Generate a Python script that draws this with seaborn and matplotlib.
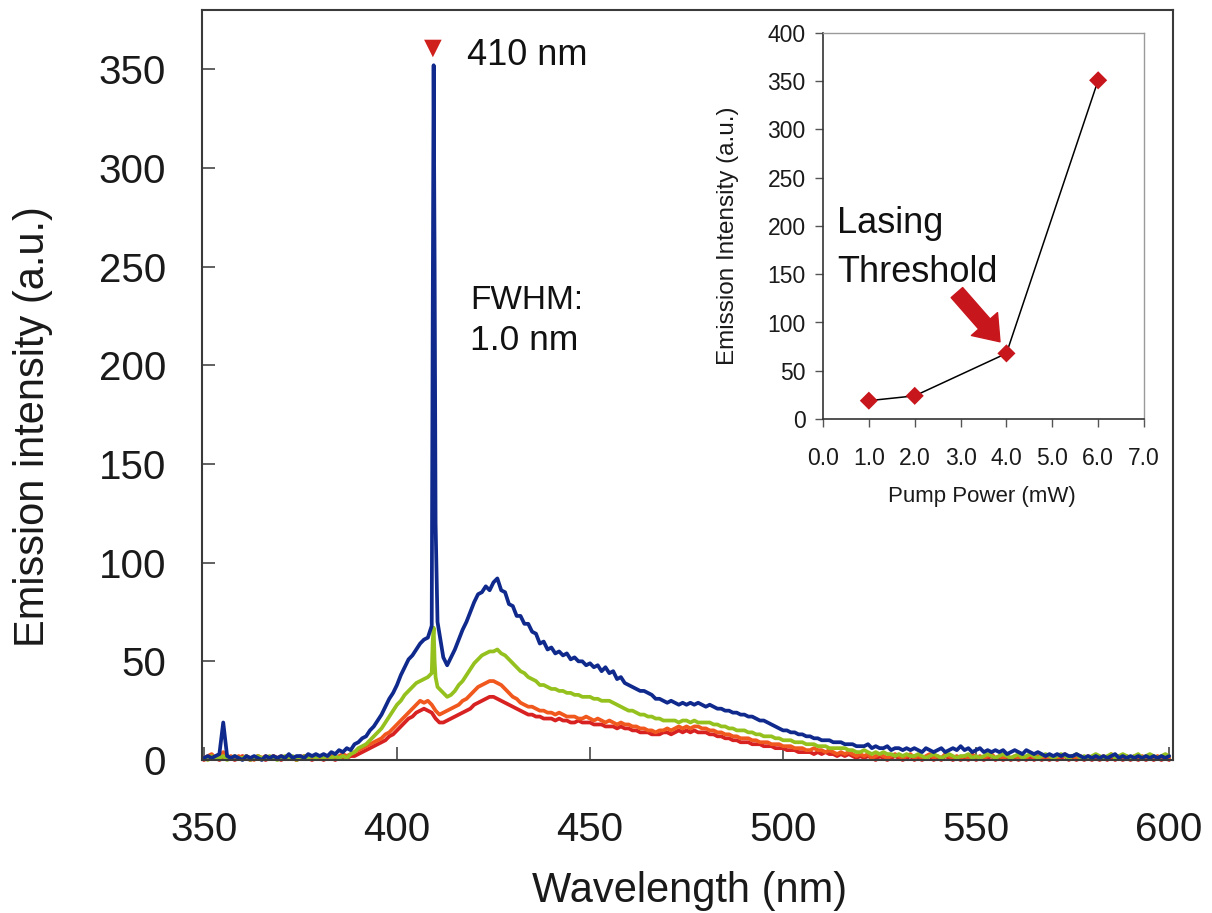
import numpy as np
import pandas as pd
import matplotlib
matplotlib.use("Agg")
import matplotlib.pyplot as plt
from matplotlib.ticker import FormatStrFormatter
import seaborn as sns

# ---------------- data ----------------
wavelength_start, wavelength_stop = 350, 600   # 1 nm sampling grid

# Spectra (a.u.) sampled every 1 nm, rows of ten: 350-359, 360-369, ... , 590-599, 600
spec_6mW = [
    1, 2, 1, 2, 3, 19, 2, 1, 2, 1,
    0, 2, 1, 2, 1, 0, 2, 1, 2, 1,
    2, 1, 3, 1, 2, 2, 1, 3, 2, 3,
    2, 3, 2, 4, 3, 5, 4, 6, 5, 8,
    9, 11, 12, 15, 17, 20, 23, 27, 31, 34,
    38, 43, 47, 51, 53, 56, 59, 61, 62, 68,
    120, 64, 52, 48, 52, 56, 61, 66, 70, 75,
    80, 84, 85, 88, 86, 90, 92, 86, 85, 79,
    78, 73, 73, 69, 69, 65, 64, 59, 60, 56,
    57, 54, 55, 53, 54, 51, 52, 50, 50, 48,
    49, 47, 48, 45, 47, 44, 45, 41, 42, 39,
    38, 37, 36, 35, 35, 34, 33, 31, 31, 30,
    29, 30, 29, 28, 29, 28, 29, 28, 29, 28,
    27, 28, 27, 26, 26, 25, 25, 24, 24, 23,
    23, 22, 22, 21, 20, 20, 19, 18, 17, 16,
    15, 15, 14, 14, 13, 13, 12, 12, 11, 11,
    10, 10, 10, 9, 9, 9, 8, 8, 8, 7,
    7, 7, 8, 6, 7, 6, 6, 7, 5, 6,
    6, 5, 6, 5, 6, 5, 4, 6, 5, 4,
    5, 6, 4, 5, 6, 5, 7, 5, 6, 4,
    5, 6, 4, 5, 4, 5, 4, 5, 3, 4,
    5, 4, 3, 5, 4, 3, 4, 3, 2, 3,
    2, 3, 2, 3, 2, 2, 3, 2, 1, 2,
    1, 2, 1, 2, 1, 2, 3, 1, 2, 1,
    2, 1, 2, 1, 2, 1, 2, 1, 2, 1,
    2,
]
spec_4mW = [
    1, 0, 2, 1, 1, 2, 0, 1, 2, 1,
    1, 2, 0, 1, 2, 1, 1, 2, 1, 0,
    1, 2, 1, 2, 0, 1, 2, 1, 2, 1,
    2, 1, 2, 1, 2, 1, 2, 1, 3, 4,
    6, 7, 8, 10, 12, 14, 16, 19, 22, 25,
    28, 30, 33, 35, 37, 39, 40, 41, 42, 44,
    42, 36, 34, 32, 33, 35, 38, 40, 43, 46,
    49, 51, 53, 54, 55, 55, 56, 54, 53, 51,
    49, 47, 45, 44, 42, 41, 40, 38, 38, 37,
    36, 36, 35, 35, 34, 34, 33, 33, 32, 32,
    32, 31, 31, 30, 30, 30, 29, 28, 27, 26,
    25, 25, 24, 23, 23, 22, 22, 21, 21, 20,
    20, 20, 20, 19, 20, 20, 19, 20, 19, 19,
    19, 19, 18, 18, 17, 17, 16, 16, 15, 15,
    15, 14, 14, 13, 13, 12, 12, 12, 11, 11,
    10, 10, 10, 9, 9, 9, 8, 8, 8, 7,
    7, 7, 6, 6, 6, 6, 6, 5, 5, 4,
    4, 5, 4, 3, 4, 3, 4, 3, 3, 2,
    3, 2, 3, 2, 2, 3, 2, 1, 2, 3,
    2, 1, 2, 3, 2, 1, 2, 2, 3, 1,
    2, 1, 2, 3, 2, 1, 2, 3, 2, 1,
    2, 3, 1, 2, 3, 2, 1, 2, 3, 2,
    1, 2, 3, 2, 1, 2, 3, 1, 2, 1,
    2, 3, 2, 1, 2, 3, 1, 2, 3, 2,
    1, 2, 3, 1, 2, 3, 2, 1, 2, 3,
    2,
]
spec_2mW = [
    1, 2, 3, 1, 2, 4, 1, 2, 1, 2,
    1, 2, 1, 0, 2, 1, 2, 1, 2, 1,
    2, 1, 2, 1, 0, 2, 1, 2, 1, 2,
    1, 2, 1, 2, 1, 2, 3, 2, 3, 4,
    5, 6, 7, 8, 9, 10, 11, 13, 14, 16,
    18, 20, 22, 24, 26, 28, 30, 29, 30, 28,
    25, 23, 24, 25, 26, 27, 28, 30, 31, 33,
    35, 37, 38, 39, 40, 40, 39, 38, 36, 34,
    32, 31, 29, 28, 27, 27, 26, 25, 25, 24,
    24, 23, 24, 23, 22, 22, 22, 21, 21, 22,
    21, 20, 21, 20, 19, 20, 19, 18, 19, 18,
    18, 17, 17, 16, 16, 15, 15, 14, 15, 15,
    16, 15, 16, 17, 16, 17, 16, 17, 17, 16,
    16, 15, 15, 14, 14, 13, 13, 12, 12, 11,
    11, 11, 10, 10, 9, 9, 9, 8, 8, 8,
    7, 7, 7, 6, 6, 6, 5, 5, 6, 5,
    5, 4, 5, 4, 3, 4, 3, 4, 3, 2,
    3, 2, 3, 1, 2, 3, 2, 1, 2, 3,
    2, 1, 2, 3, 1, 2, 1, 2, 3, 1,
    2, 1, 3, 2, 1, 2, 1, 2, 1, 3,
    1, 2, 1, 2, 3, 1, 2, 1, 2, 1,
    2, 1, 2, 1, 3, 1, 2, 1, 2, 1,
    2, 1, 2, 3, 1, 2, 1, 2, 1, 2,
    1, 2, 1, 2, 1, 3, 1, 2, 1, 2,
    1, 2, 1, 2, 1, 2, 1, 2, 1, 2,
    1,
]
spec_1mW = [
    0, 1, 2, 1, 0, 1, 2, 1, 0, 1,
    2, 1, 0, 1, 2, 1, 0, 1, 2, 1,
    0, 1, 2, 1, 0, 1, 2, 1, 0, 1,
    1, 0, 1, 1, 0, 1, 1, 1, 2, 2,
    3, 4, 5, 6, 7, 8, 9, 10, 12, 13,
    15, 17, 19, 21, 22, 24, 25, 26, 25, 24,
    21, 19, 19, 20, 21, 22, 23, 24, 25, 26,
    28, 29, 30, 31, 32, 32, 31, 30, 29, 28,
    27, 26, 25, 24, 23, 23, 22, 22, 21, 21,
    21, 20, 21, 20, 20, 19, 19, 20, 19, 19,
    19, 18, 18, 18, 17, 17, 17, 16, 17, 16,
    16, 15, 15, 14, 14, 14, 13, 13, 13, 14,
    14, 13, 14, 15, 14, 15, 14, 15, 14, 14,
    14, 13, 13, 12, 12, 11, 11, 10, 10, 9,
    9, 9, 8, 8, 8, 7, 7, 7, 6, 6,
    6, 5, 5, 5, 4, 4, 4, 4, 3, 4,
    3, 4, 3, 3, 2, 3, 2, 3, 2, 1,
    2, 1, 2, 1, 0, 2, 1, 0, 1, 2,
    1, 0, 1, 2, 0, 1, 0, 1, 2, 0,
    1, 0, 2, 1, 0, 1, 0, 1, 0, 2,
    0, 1, 0, 1, 2, 0, 1, 0, 1, 0,
    1, 0, 1, 0, 2, 0, 1, 0, 1, 0,
    1, 0, 1, 2, 0, 1, 0, 1, 0, 1,
    0, 1, 0, 1, 0, 2, 0, 1, 0, 1,
    0, 1, 0, 1, 0, 1, 0, 1, 0, 1,
    0,
]

# extra fine samples across the lasing line
peak_wavelengths = [409.25, 409.5, 409.75, 410.5]
peak_6mW = [220, 352, 250, 70]
peak_4mW = [60, 67, 50, 37]

series_names = ["1 mW", "2 mW", "4 mW", "6 mW"]
series_colors = ["#d82222", "#f0581e", "#95c11f", "#0f2a8c"]

# lasing-line marker
marker_wl = [409.3]
marker_int = [360.5]

# inset: emission vs pump power
pump_power = [1.0, 2.0, 4.0, 6.0]
emission_peak = [19, 24, 68, 351]

# ---------------- build long table ----------------
grid = list(range(wavelength_start, wavelength_stop + 1))
rows = []
for name, vals, extra in [("1 mW", spec_1mW, None), ("2 mW", spec_2mW, None),
                          ("4 mW", spec_4mW, peak_4mW), ("6 mW", spec_6mW, peak_6mW)]:
    assert len(vals) == len(grid), (name, len(vals))
    xs = list(grid)
    ys = list(vals)
    if extra is not None:
        xs += peak_wavelengths
        ys += extra
    for x, y in zip(xs, ys):
        rows.append((name, x, y))
df = pd.DataFrame(rows, columns=["power", "wavelength", "intensity"])

# ---------------- figure ----------------
sns.set_style("white")
plt.rcParams["font.family"] = ["Liberation Sans", "DejaVu Sans"]

W, H = 1212, 913
fig = plt.figure(figsize=(W / 100, H / 100), dpi=100)
ax = fig.add_axes([202 / W, 153 / H, 971 / W, 750 / H])

sns.lineplot(data=df, x="wavelength", y="intensity", hue="power",
             hue_order=series_names, palette=series_colors,
             estimator=None, sort=True, lw=2.7, legend=False, ax=ax)
for ln in ax.lines:
    ln.set_clip_on(False)

sns.scatterplot(x=marker_wl, y=marker_int, marker="v", s=160,
                color="#d0201c", edgecolor="none", ax=ax, zorder=5)

ax.set_xlim(349.5, 601)
ax.set_ylim(0, 380)
ax.set_xticks(range(350, 601, 50))
ax.set_yticks(range(0, 351, 50))
for sp in ax.spines.values():
    sp.set_color("#3a3a3a")
    sp.set_linewidth(1.5)
ax.tick_params(axis="both", which="major", bottom=True, left=True,
               top=False, right=False, direction="in", length=9.5, width=1.3,
               color="#555555", labelsize=29, labelcolor="#1a1a1a")
ax.tick_params(axis="x", pad=37)
ax.tick_params(axis="y", pad=26)

ax.set_xlabel("Wavelength (nm)", fontsize=30, color="#1a1a1a")
ax.set_ylabel("Emission intensity (a.u.)", fontsize=30, color="#1a1a1a")
ax.xaxis.label.set_va("baseline")
ax.xaxis.set_label_coords(0.5026, -0.1893)
ax.yaxis.label.set_va("center")
ax.yaxis.label.set_ha("center")
ax.yaxis.set_label_coords(-0.174, 0.444)

ax.text(418.2, 352, "410 nm", fontsize=26, color="#111111", va="baseline", ha="left")
ax.text(419.0, 228.5, "FWHM:", fontsize=24, color="#111111", va="baseline", ha="left")
ax.text(419.0, 207.7, "1.0 nm", fontsize=25.5, color="#111111", va="baseline", ha="left")

# ---------------- inset ----------------
axi = fig.add_axes([823 / W, 494 / H, 321 / W, 386 / H])
axi.set_facecolor("white")
sns.lineplot(x=pump_power, y=emission_peak, color="black", lw=1.1, ax=axi)
sns.scatterplot(x=pump_power, y=emission_peak, marker="D", s=85,
                color="#c8161d", edgecolor="none", ax=axi, zorder=4)
axi.set_xlim(0, 7)
axi.set_ylim(0, 400)
axi.set_xticks(np.arange(0, 7.01, 1.0))
axi.set_yticks(range(0, 401, 50))
axi.xaxis.set_major_formatter(FormatStrFormatter("%.1f"))
axi.tick_params(axis="both", which="major", bottom=True, left=True,
                top=False, right=False, direction="out", length=5.5, width=1.0,
                color="#555555", labelsize=16.5, labelcolor="#1a1a1a")
axi.tick_params(axis="x", pad=15)
axi.tick_params(axis="y", pad=7)
for k in ["left", "bottom"]:
    axi.spines[k].set_color("#333333")
    axi.spines[k].set_linewidth(1.2)
for k in ["top", "right"]:
    axi.spines[k].set_color("#9a9a9a")
    axi.spines[k].set_linewidth(1.0)

axi.set_xlabel("Pump Power (mW)", fontsize=16, color="#1a1a1a")
axi.set_ylabel("Emission Intensity (a.u.)", fontsize=17.5, color="#1a1a1a")
axi.xaxis.label.set_va("baseline")
axi.xaxis.set_label_coords(0.495, -0.215)
axi.yaxis.label.set_va("center")
axi.yaxis.label.set_ha("center")
axi.yaxis.set_label_coords(-0.295, 0.474)

axi.text(0.3, 192.7, "Lasing", fontsize=26, color="#111111", va="baseline", ha="left")
axi.text(0.3, 142.3, "Threshold", fontsize=26, color="#111111", va="baseline", ha="left")
axi.annotate("", xy=(3.86, 80), xytext=(2.92, 131), annotation_clip=False,
             arrowprops=dict(arrowstyle="simple,head_length=0.85,head_width=1.25,tail_width=0.55",
                             color="#c8161d", mutation_scale=20, shrinkA=0, shrinkB=0))

fig.savefig("out.png", dpi=100, facecolor="white")
